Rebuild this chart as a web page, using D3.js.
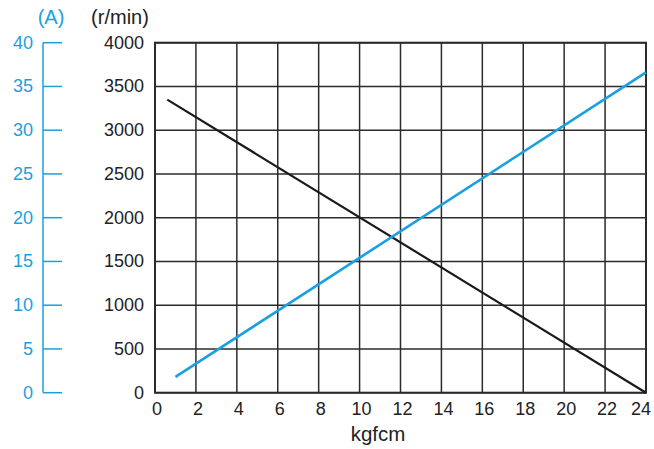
<!DOCTYPE html>
<html>
<head>
<meta charset="utf-8">
<script src="https://cdn.jsdelivr.net/npm/d3@7"></script>
<style>
body { margin: 0; background: #fff; }
text { font-family: "Liberation Sans", Arial, sans-serif; }
</style>
</head>
<body>
<div id="chart"></div>
<script>
// torque (kgfcm) vs speed (r/min) and current (A)
const speedLine = [[0.6, 3350], [24, 0]];
const currentLine = [[1.0, 1.8], [24, 36.6]];

const xTicks = d3.range(0, 25, 2);
const rpmTicks = d3.range(0, 4001, 500);
const ampTicks = d3.range(0, 41, 5);

const width = 654, height = 449;
const margin = {left: 155, top: 42.7, right: 8, bottom: 56.3};
const blue = '#1b9fe3';
const grid = '#2b2b2b';

const svg = d3.select('#chart').append('svg')
  .attr('width', width)
  .attr('height', height);

const x = d3.scaleLinear().domain([0, 24]).range([margin.left, width - margin.right]);
const yRpm = d3.scaleLinear().domain([0, 4000]).range([height - margin.bottom, margin.top]);
const yAmp = d3.scaleLinear().domain([0, 40]).range([height - margin.bottom, margin.top]);

// grid
const g = svg.append('g');
g.selectAll('.vg').data(xTicks).join('line')
  .attr('x1', d => x(d)).attr('x2', d => x(d))
  .attr('y1', yRpm(0)).attr('y2', yRpm(4000))
  .attr('stroke', grid).attr('stroke-width', 1.5);
g.selectAll('.hg').data(rpmTicks).join('line')
  .attr('x1', x(0)).attr('x2', x(24))
  .attr('y1', d => yRpm(d)).attr('y2', d => yRpm(d))
  .attr('stroke', grid).attr('stroke-width', 1.5);
g.append('rect')
  .attr('x', x(0)).attr('y', yRpm(4000))
  .attr('width', x(24) - x(0)).attr('height', yRpm(0) - yRpm(4000))
  .attr('fill', 'none').attr('stroke', grid).attr('stroke-width', 2);

// x labels (last one pulled in so it stays on the page)
const last = xTicks[xTicks.length - 1];
svg.append('g').selectAll('text').data(xTicks).join('text')
  .attr('x', d => d === last ? x(d) + 5 : x(d) + 2)
  .attr('y', yRpm(0) + 22)
  .attr('text-anchor', d => d === last ? 'end' : 'middle')
  .attr('font-size', 18).attr('fill', '#222')
  .text(d => d);

svg.append('text')
  .attr('x', 378).attr('y', 441)
  .attr('text-anchor', 'middle')
  .attr('font-size', 20.5).attr('fill', '#222')
  .text('kgfcm');

// rpm labels
svg.append('g').selectAll('text').data(rpmTicks).join('text')
  .attr('x', 144).attr('y', d => yRpm(d) + 6)
  .attr('text-anchor', 'end')
  .attr('font-size', 18).attr('fill', '#222')
  .text(d => d);

svg.append('text')
  .attr('x', 120).attr('y', 24)
  .attr('text-anchor', 'middle')
  .attr('font-size', 20).attr('fill', '#222')
  .text('(r/min)');

// amp axis
const ax = svg.append('g');
ax.append('line')
  .attr('x1', 43).attr('x2', 43)
  .attr('y1', yAmp(0)).attr('y2', yAmp(40))
  .attr('stroke', blue).attr('stroke-width', 1.5);
ax.selectAll('.t').data(ampTicks).join('line')
  .attr('x1', 43).attr('x2', 62)
  .attr('y1', d => yAmp(d)).attr('y2', d => yAmp(d))
  .attr('stroke', blue).attr('stroke-width', 1.5);
ax.selectAll('text').data(ampTicks).join('text')
  .attr('x', 33).attr('y', d => yAmp(d) + 6)
  .attr('text-anchor', 'end')
  .attr('font-size', 18).attr('fill', blue)
  .text(d => d);

svg.append('text')
  .attr('x', 51).attr('y', 24)
  .attr('text-anchor', 'middle')
  .attr('font-size', 20).attr('fill', blue)
  .text('(A)');

// data lines
svg.append('path')
  .attr('d', d3.line().x(d => x(d[0])).y(d => yRpm(d[1]))(speedLine))
  .attr('fill', 'none').attr('stroke', '#1a1a1a').attr('stroke-width', 2.2);

svg.append('path')
  .attr('d', d3.line().x(d => x(d[0])).y(d => yAmp(d[1]))(currentLine))
  .attr('fill', 'none').attr('stroke', blue).attr('stroke-width', 2.6);
</script>
</body>
</html>
